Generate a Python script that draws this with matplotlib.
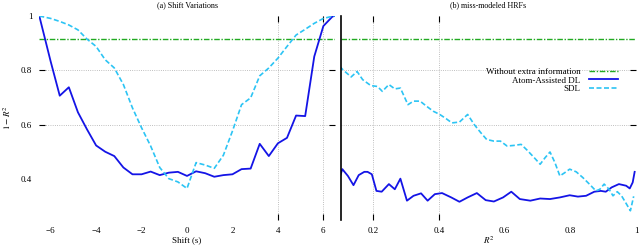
import numpy as np
import matplotlib
matplotlib.use("Agg")
import matplotlib.pyplot as plt

plt.rcParams['font.family'] = ['Liberation Serif', 'DejaVu Serif']
plt.rcParams['font.size'] = 6.5
plt.rcParams['mathtext.fontset'] = 'stix'

# (a) shift variations
shift = [-6.5, -6.0, -5.6, -5.2, -4.8, -4.4, -4.0, -3.6, -3.2, -2.8, -2.4, -2.0,
         -1.6, -1.2, -0.8, -0.4, 0.0, 0.4, 0.8, 1.2, 1.6, 2.0, 2.4, 2.8, 3.2, 3.6,
         4.0, 4.4, 4.8, 5.2, 5.6, 6.0, 6.4, 6.5]
atom_shift = [1.0, 0.833, 0.707, 0.738, 0.646, 0.583, 0.524, 0.501, 0.485, 0.443,
              0.418, 0.418, 0.428, 0.415, 0.424, 0.427, 0.412, 0.429, 0.422, 0.409,
              0.415, 0.418, 0.437, 0.439, 0.530, 0.485, 0.532, 0.552, 0.634, 0.632,
              0.851, 0.963, 0.998, 1.0]
sdl_shift = [1.0, 0.991, 0.980, 0.967, 0.949, 0.915, 0.888, 0.839, 0.809, 0.748,
             0.662, 0.589, 0.522, 0.443, 0.402, 0.390, 0.366, 0.461, 0.452, 0.440,
             0.488, 0.577, 0.674, 0.699, 0.780, 0.809, 0.845, 0.888, 0.930, 0.951,
             0.973, 0.991, 0.999, 1.0]

# (b) miss-modeled HRFs
r2_sdl = [0.097, 0.107, 0.132, 0.150, 0.167, 0.192, 0.212, 0.227, 0.247, 0.265,
          0.282, 0.305, 0.322, 0.342, 0.362, 0.382, 0.402, 0.422, 0.439, 0.462,
          0.487, 0.507, 0.527, 0.545, 0.567, 0.587, 0.607, 0.627, 0.650, 0.668,
          0.690, 0.708, 0.723, 0.738, 0.753, 0.768, 0.783, 0.798, 0.818, 0.838,
          0.858, 0.878, 0.890, 0.903, 0.918, 0.930, 0.943, 0.956, 0.968, 0.983,
          0.993]
sdl_hrf = [0.815, 0.802, 0.776, 0.796, 0.766, 0.744, 0.741, 0.723, 0.748, 0.732,
           0.735, 0.674, 0.687, 0.687, 0.668, 0.650, 0.638, 0.622, 0.607, 0.610,
           0.638, 0.601, 0.571, 0.546, 0.540, 0.540, 0.522, 0.524, 0.528, 0.507,
           0.479, 0.455, 0.479, 0.500, 0.461, 0.412, 0.424, 0.437, 0.427, 0.406,
           0.382, 0.357, 0.363, 0.382, 0.363, 0.339, 0.354, 0.339, 0.315, 0.284,
           0.337]
r2_atom = [0.097, 0.105, 0.122, 0.139, 0.155, 0.172, 0.182, 0.195, 0.209, 0.225,
           0.247, 0.265, 0.282, 0.302, 0.322, 0.345, 0.365, 0.387, 0.409, 0.437,
           0.462, 0.487, 0.515, 0.542, 0.567, 0.595, 0.620, 0.646, 0.678, 0.708,
           0.738, 0.768, 0.798, 0.823, 0.848, 0.873, 0.893, 0.908, 0.926, 0.948,
           0.970, 0.981, 0.990, 0.996]
atom_hrf = [0.406, 0.437, 0.412, 0.378, 0.415, 0.427, 0.427, 0.418, 0.357, 0.354,
            0.382, 0.363, 0.402, 0.321, 0.339, 0.348, 0.321, 0.345, 0.349, 0.333,
            0.317, 0.333, 0.349, 0.323, 0.318, 0.333, 0.354, 0.327, 0.321, 0.329,
            0.327, 0.333, 0.341, 0.336, 0.339, 0.354, 0.357, 0.354, 0.370, 0.382,
            0.376, 0.366, 0.388, 0.427]

baseline = 0.914

green = '#22aa22'
blue = '#1414e6'
cyan = '#2cc4f4'
dashdot = (0, (4, 1.2, 1, 1.2))

fig = plt.figure(figsize=(6.4, 2.46), dpi=100)
ax1 = fig.add_axes([0.0614, 0.1057, 0.4616, 0.8293])
ax2 = fig.add_axes([0.5323, 0.1057, 0.4614, 0.8293])

for ax in (ax1, ax2):
    ax.xaxis.remove_overlapping_locs = False
    ax.yaxis.remove_overlapping_locs = False
    ax.set_ylim(0.25, 1.0)
    for s in ax.spines.values():
        s.set_visible(False)
    ax.set_yticks([0.4, 0.6, 0.8, 1.0])
    ax.set_yticks([0.6, 0.8], minor=True)
    ax.tick_params(which='major', length=0)
    ax.tick_params(which='minor', length=4, width=0.8, direction='in',
                   left=True, right=True, top=True, bottom=True)
    ax.grid(which='minor', color='#aaaaaa', linestyle=':', linewidth=0.6)

# left panel
ax1.set_xlim(-6.5, 6.5)
ax1.set_xticks([-6, -4, -2, 0, 2, 4, 6])
ax1.set_xticks([4, 6], minor=True)
ax1.set_yticklabels(['0.4', '0.6', '0.8', '1'])
ax1.tick_params(axis='y', which='major', pad=5)
ax1.tick_params(axis='x', which='major', pad=5)
ax1.axhline(baseline, color=green, lw=1.0, linestyle=dashdot)
ax1.plot(shift, atom_shift, color=blue, lw=1.3)
ax1.plot(shift, sdl_shift, color=cyan, lw=1.2, linestyle=(0, (3, 1.5)))
ax1.set_title('(a) Shift Variations', pad=6, fontsize=5.8)
ax1.set_xlabel('Shift (s)', labelpad=1)
ax1.set_ylabel(r'$1-R^2$', labelpad=6)

# right panel
ax2.set_xlim(0.1, 1.0)
ax2.set_xticks([0.2, 0.4, 0.6, 0.8, 1.0])
ax2.set_xticklabels(['0.2', '0.4', '0.6', '0.8', '1'])
ax2.set_xticks([0.2, 0.4], minor=True)
ax2.set_yticklabels([])
ax2.tick_params(axis='x', which='major', pad=5)
ax2.tick_params(which='minor', left=False)
ax2.spines['left'].set_visible(True)
ax2.spines['left'].set_color('black')
ax2.spines['left'].set_linewidth(1.2)
ax2.axhline(baseline, color=green, lw=1.0, linestyle=dashdot,
            label='Without extra information')
ax2.plot(r2_atom, atom_hrf, color=blue, lw=1.3, label='Atom-Assisted DL')
ax2.plot(r2_sdl, sdl_hrf, color=cyan, lw=1.2, linestyle=(0, (3, 1.5)), label='SDL')
ax2.set_title('(b) miss-modeled HRFs', pad=6, fontsize=5.8)
ax2.set_xlabel(r'$R^2$', labelpad=0)
ax2.legend(loc='upper right', bbox_to_anchor=(0.94, 0.745), frameon=False,
           markerfirst=False, handlelength=3.2, handletextpad=1.0,
           labelspacing=0.0, borderpad=0, borderaxespad=0)

fig.savefig('out.png', dpi=100)
